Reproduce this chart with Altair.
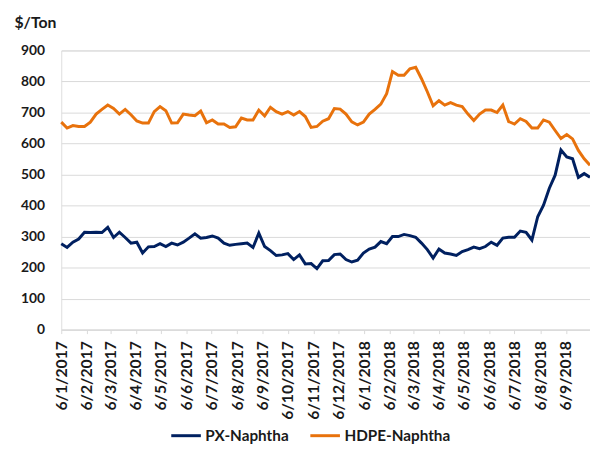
import altair as alt
import pandas as pd

# Weekly observations starting 6 Jan 2017
start_date = "2017-01-06"
n_weeks = 92

hdpe_naphtha = [
    669, 650, 658, 655, 655, 669, 695, 710, 724, 713, 695, 710, 693, 673, 666, 666,
    703, 719, 706, 666, 667, 695, 692, 690, 705, 667, 676, 663, 663, 652,
    654, 682, 676, 676, 708, 689, 717, 703, 695, 703, 692, 703, 687, 652, 655,
    672, 680, 713, 711, 695, 670, 660, 669, 695, 710, 727, 761, 832, 820, 820,
    841, 846, 809, 767, 722, 738, 724, 732, 724, 719, 695, 674, 695, 708, 708,
    700, 724, 671, 663, 680, 671, 650, 650, 676, 669, 642, 616, 629, 615, 578, 551, 530,
]

px_naphtha = [
    277, 265, 282, 292, 314, 313, 314, 313, 330, 297, 314, 297, 279, 282, 247, 267,
    268, 277, 268, 279, 273, 282, 295, 309, 295, 297, 302, 295, 279, 272,
    275, 277, 279, 265, 311, 268, 255, 239, 241, 245, 226, 241, 212, 213, 197,
    222, 223, 242, 244, 226, 218, 224, 247, 260, 266, 284, 277, 300, 300, 307,
    303, 298, 279, 258, 231, 260, 247, 244, 239, 252, 258, 266, 261, 268, 282,
    272, 295, 298, 298, 318, 314, 289, 364, 401, 456, 498, 579, 557, 551, 491, 503, 491,
]

series_names = ["PX-Naphtha", "HDPE-Naphtha"]
series_colors = ["#002060", "#E8720C"]

# tick dates: the 6th of each month, Jan 2017 .. Sep 2018
tick_months = [(2017, m) for m in range(1, 13)] + [(2018, m) for m in range(1, 10)]
y_ticks = [0, 100, 200, 300, 400, 500, 600, 700, 800, 900]

dates = pd.date_range(start_date, periods=n_weeks, freq="7D")
date_str = [d.strftime("%Y/%m/%d") for d in dates]

df = pd.DataFrame({
    "date": date_str * 2,
    "value": px_naphtha + hdpe_naphtha,
    "series": [series_names[0]] * n_weeks + [series_names[1]] * n_weeks,
})

FONT = "Lato"
TXT = "#1a1a1a"

x_values = [alt.DateTime(year=y, month=m, date=6) for y, m in tick_months]

chart = alt.Chart(df).mark_line(strokeWidth=3).encode(
    x=alt.X(
        "date:T",
        scale=alt.Scale(
            domain=[alt.DateTime(year=2017, month=1, date=6), alt.DateTime(year=2018, month=10, date=5)],
            nice=False,
        ),
        axis=alt.Axis(
            values=x_values,
            format="%-d/%-m/%Y",
            labelAngle=270,
            labelAlign="right",
            labelBaseline="middle",
            labelFont=FONT,
            labelFontSize=16,
            labelFontWeight="bold",
            labelColor=TXT,
            labelPadding=7,
            labelOverlap=False,
            labelFlush=False,
            tickColor="#d9d9d9",
            tickSize=4,
            domainColor="#d9d9d9",
            grid=False,
            title=None,
        ),
    ),
    y=alt.Y(
        "value:Q",
        scale=alt.Scale(domain=[0, 900], nice=False),
        axis=alt.Axis(
            values=y_ticks,
            labelFont=FONT,
            labelFontSize=14,
            labelFontWeight="bold",
            labelColor=TXT,
            labelPadding=17,
            ticks=False,
            domain=False,
            gridColor="#d9d9d9",
            gridWidth=1,
            title="$/Ton",
            titleAngle=0,
            titleAlign="left",
            titleBaseline="alphabetic",
            titleX=-48,
            titleY=-23,
            titleFont=FONT,
            titleFontSize=16,
            titleFontWeight="bold",
            titleColor=TXT,
        ),
    ),
    color=alt.Color(
        "series:N",
        scale=alt.Scale(domain=series_names, range=series_colors),
        legend=alt.Legend(
            title=None,
            orient="none",
            direction="horizontal",
            columns=2,
            legendX=110,
            legendY=374,
            symbolType="stroke",
            symbolSize=900,
            symbolStrokeWidth=3,
            labelFont=FONT,
            labelFontSize=15.5,
            labelFontWeight="bold",
            labelColor=TXT,
            labelOffset=3,
            columnPadding=15,
            padding=0,
        ),
    ),
).properties(
    width=536,
    height=283,
    autosize=alt.AutoSizeParams(type="none"),
    padding={"left": 54, "top": 40, "right": 0, "bottom": 124},
).configure_view(stroke=None).configure(background="white")

chart.save("out.html", embed_options={"renderer": "svg", "actions": False})
